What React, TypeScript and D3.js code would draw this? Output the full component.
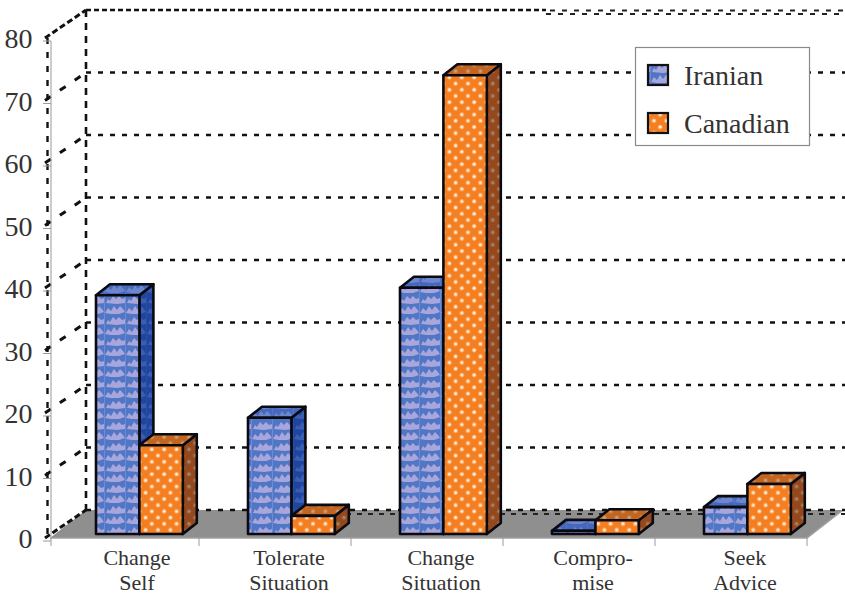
import React from "react";
import * as d3 from "d3";

const categories = [["Change", "Self"], ["Tolerate", "Situation"], ["Change", "Situation"], ["Compro-", "mise"], ["Seek", "Advice"]];
const iranian = [38.2, 18.6, 39.4, 0.5, 4.3];
const canadian = [14.2, 2.9, 73.4, 2.2, 8];
const seriesNames = ["Iranian", "Canadian"];
const ticks = [0, 10, 20, 30, 40, 50, 60, 70, 80];

const FONT = "'Liberation Serif', serif";
const INK = "#333";
const DEPTH = { x: 36, y: -28 };
const BAR_DEPTH = { x: 14, y: -11 };
const BAR_INSET = { x: 0, y: -4 };

const y = d3.scaleLinear().domain([0, 80]).range([538, 38]);
const band = d3.scaleBand<number>().domain(d3.range(5)).range([47, 807]);
const poly = d3.line();

type Face = { base: string; blob: string };

// Cloud-like brick texture used on the first series
function Brick({ id, base, blob }: { id: string } & Face) {
  return (
    <pattern id={id} width={21} height={21} patternUnits="userSpaceOnUse">
      <rect width={21} height={21} fill={base} />
      <path d="M1 9 L3 5 L5 7 L8 2 L11 5 L14 2 L17 5 L20 4 L20 9 L12 10 Z" fill={blob} />
      <path d="M0 19 L3 14 L6 17 L9 12 L12 16 L15 12 L18 15 L20 18 L14 20 L6 20 Z" fill={blob} />
      <path d="M20.5 0 V21" stroke={blob} strokeWidth={0.7} opacity={0.55} />
    </pattern>
  );
}

function Dots({ id, base, dot }: { id: string; base: string; dot: string }) {
  return (
    <pattern id={id} width={12.4} height={12.4} patternUnits="userSpaceOnUse">
      <rect width={12.4} height={12.4} fill={base} />
      <circle cx={3} cy={3} r={2.2} fill={dot} opacity={0.45} />
      <circle cx={3} cy={3} r={1.4} fill={dot} />
      <circle cx={9.2} cy={9.2} r={2.2} fill={dot} opacity={0.45} />
      <circle cx={9.2} cy={9.2} r={1.4} fill={dot} />
    </pattern>
  );
}

function Bar({ x, w, value, series }: { x: number; w: number; value: number; series: number }) {
  const bottom = y(0) + BAR_INSET.y;
  const top = y(value) + BAR_INSET.y;
  const d = BAR_DEPTH;
  const front: [number, number][] = [[x, top], [x + w, top], [x + w, bottom], [x, bottom]];
  const cap: [number, number][] = [[x, top], [x + d.x, top + d.y], [x + w + d.x, top + d.y], [x + w, top]];
  const side: [number, number][] = [[x + w, top], [x + w + d.x, top + d.y], [x + w + d.x, bottom + d.y], [x + w, bottom]];
  const tag = series === 0 ? "ir" : "ca";
  const edge = { stroke: "#0a0a12", strokeWidth: 2.6, strokeLinejoin: "round" as const };
  return (
    <g>
      <path d={poly(side)! + "Z"} fill={`url(#${tag}-side)`} {...edge} />
      <path d={poly(cap)! + "Z"} fill={`url(#${tag}-top)`} {...edge} />
      <path d={poly(front)! + "Z"} fill={`url(#${tag}-front)`} {...edge} />
    </g>
  );
}

export default function App() {
  const right = band.range()[1];
  const gridX0 = 50 + DEPTH.x;
  const backY = (t: number) => y(t) + DEPTH.y;
  return (
    <svg width={845} height={595} style={{ position: "absolute", left: 0, top: 0, background: "#fff" }}>
      <defs>
        <Brick id="ir-front" base="#5076c6" blob="#a9a6dc" />
        <Brick id="ir-top" base="#4568bc" blob="#6d86cc" />
        <Brick id="ir-side" base="#1f459e" blob="#3a5eb2" />
        <Dots id="ca-front" base="#f57f20" dot="#fdeedd" />
        <Dots id="ca-top" base="#c4651f" dot="#c9a27e" />
        <Dots id="ca-side" base="#96481d" dot="#a88468" />
      </defs>

      {/* floor of the 3D box */}
      <path
        d={poly([[50, y(0)], [gridX0, backY(0)], [right + DEPTH.x, backY(0)], [right, y(0)]])! + "Z"}
        fill="#8f8f8f"
      />
      <path d={`M50 ${y(0)} H${right} L${right + DEPTH.x} ${backY(0)}`} fill="none" stroke="#a0a0a0" strokeWidth={1.5} />

      {/* back-wall gridlines and their slanted returns */}
      {ticks.map((t) => (
        <g key={t} stroke="#111" fill="none">
          <line x1={gridX0} x2={t === 80 ? 546 : 845} y1={backY(t)} y2={backY(t)} strokeWidth={2.6} strokeDasharray={t === 80 ? "5 3" : "5 7"} />
          <line x1={45} y1={y(t)} x2={gridX0} y2={backY(t)} strokeWidth={3} strokeDasharray={t === 0 || t === 80 ? "6 3" : "7 11"} />
        </g>
      ))}
      {/* the top edge breaks into two staggered rows towards the right */}
      <line x1={550} x2={845} y1={10.5} y2={10.5} stroke="#222" strokeWidth={2.2} strokeDasharray="5 7" />
      <line x1={546} x2={845} y1={14} y2={14} stroke="#222" strokeWidth={2.2} strokeDasharray="5 7" />
      <line x1={280} x2={845} y1={514} y2={514} stroke="#222" strokeWidth={2.2} strokeDasharray="5 6" />
      <line x1={gridX0} x2={gridX0} y1={backY(80)} y2={backY(0)} stroke="#111" strokeWidth={2.6} strokeDasharray="7 6" />
      <line x1={47.5} x2={47.5} y1={y(80)} y2={y(0)} stroke="#111" strokeWidth={2.4} strokeDasharray="6 8" />

      {/* value axis */}
      <line x1={51} x2={51} y1={y(80) + 3} y2={y(0) + 8} stroke="#9a9a9a" strokeWidth={1} />
      {ticks.map((t) => (
        <g key={t}>
          <line x1={43} x2={51} y1={y(t) + 3} y2={y(t) + 3} stroke="#9a9a9a" strokeWidth={1} />
          <text x={32.5} y={y(t) + 10} textAnchor="end" fontFamily={FONT} fontSize={28} fill={INK}>{t}</text>
        </g>
      ))}

      {/* category ticks */}
      {d3.range(1, 6).map((i) => (
        <line key={i} x1={47 + i * band.step()} x2={47 + i * band.step()} y1={y(0)} y2={y(0) + 8} stroke="#9a9a9a" strokeWidth={1} />
      ))}

      {/* bars, back to front within each category */}
      {categories.map((_, i) => {
        const x0 = (band(i) as number) + 49;
        const w = 43.4;
        return (
          <g key={i}>
            <Bar x={x0} w={w} value={iranian[i]} series={0} />
            <Bar x={x0 + w} w={w} value={canadian[i]} series={1} />
          </g>
        );
      })}

      {/* category labels */}
      {categories.map((lines, i) => (
        <text key={i} textAnchor="middle" fontFamily={FONT} fontSize={22} fill={INK}>
          {lines.map((l, j) => (
            <tspan key={j} x={(band(i) as number) + band.bandwidth() / 2 + 14} y={565 + j * 25}>{l}</tspan>
          ))}
        </text>
      ))}

      {/* legend */}
      <rect x={635.5} y={47.5} width={174} height={98} fill="#fff" stroke="#8a8a8a" strokeWidth={1.2} />
      {seriesNames.map((name, i) => (
        <g key={name}>
          <rect x={648} y={65 + i * 48} width={20} height={20} fill={`url(#${i === 0 ? "ir" : "ca"}-front)`} stroke="#111" strokeWidth={2.2} />
          <text x={684} y={85 + i * 48} fontFamily={FONT} fontSize={28} fill={INK}>{name}</text>
        </g>
      ))}
    </svg>
  );
}
